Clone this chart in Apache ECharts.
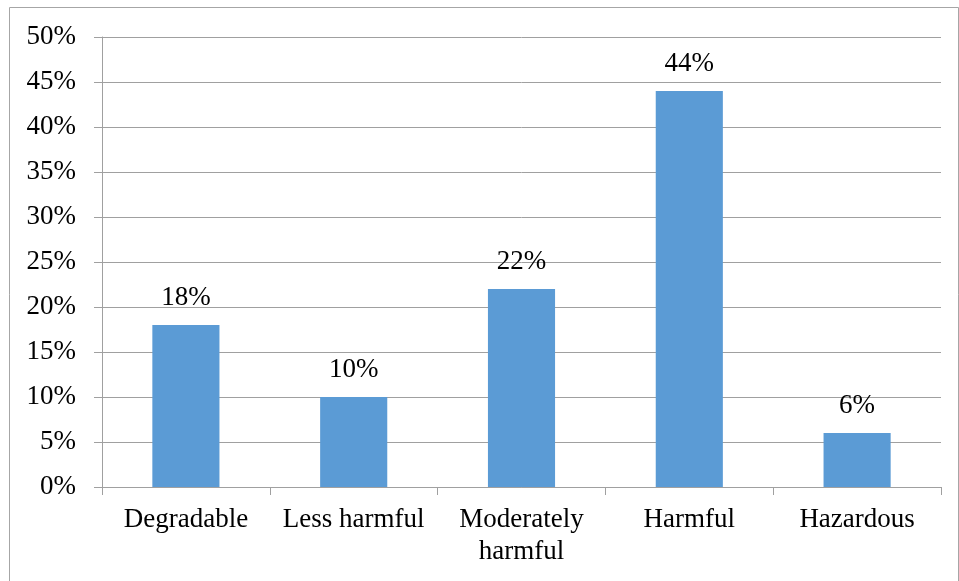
<!DOCTYPE html>
<html>
<head>
<meta charset="utf-8">
<script src="https://cdn.jsdelivr.net/npm/echarts@6/dist/echarts.min.js"></script>
<style>
  html, body { margin: 0; padding: 0; background: #fff; }
  #chart { width: 959px; height: 581px; }
</style>
</head>
<body>
<div id="chart"></div>
<script>
// Waste categories and their shares (percent)
const categories = ['Degradable', 'Less harmful', 'Moderately\nharmful', 'Harmful', 'Hazardous'];
const shares = [18, 10, 22, 44, 6];

const font = '"Liberation Serif", "Times New Roman", serif';
const chart = echarts.init(document.getElementById('chart'), null, { renderer: 'canvas' });

chart.setOption({
  animation: false,
  backgroundColor: '#ffffff',
  graphic: [{
    type: 'rect',
    shape: { x: 9.5, y: 7.5, width: 949, height: 600 },
    style: { fill: 'none', stroke: '#a6a6a6', lineWidth: 1 },
    silent: true
  }],
  grid: { left: 102, right: 18, top: 37, bottom: 94, containLabel: false },
  xAxis: {
    type: 'category',
    data: categories,
    axisLine: { lineStyle: { color: '#a0a0a0', width: 1 } },
    axisTick: { show: true, length: 8, alignWithLabel: false, lineStyle: { color: '#a0a0a0' } },
    axisLabel: { color: '#000', fontFamily: font, fontSize: 27, margin: 17, lineHeight: 32, interval: 0 }
  },
  yAxis: {
    type: 'value',
    min: 0, max: 50, interval: 5,
    axisLine: { show: true, lineStyle: { color: '#a0a0a0', width: 1 } },
    axisTick: { show: true, length: 8, lineStyle: { color: '#a0a0a0' } },
    splitLine: { lineStyle: { color: '#a0a0a0', width: 1 } },
    axisLabel: { color: '#000', fontFamily: font, fontSize: 27, margin: 26, formatter: '{value}%' }
  },
  series: [{
    type: 'bar',
    data: shares,
    barWidth: '40%',
    itemStyle: { color: '#5b9bd5' },
    label: {
      show: true, position: 'top', distance: 14,
      color: '#000', fontFamily: font, fontSize: 27,
      formatter: p => p.value + '%'
    }
  }]
});
</script>
</body>
</html>
